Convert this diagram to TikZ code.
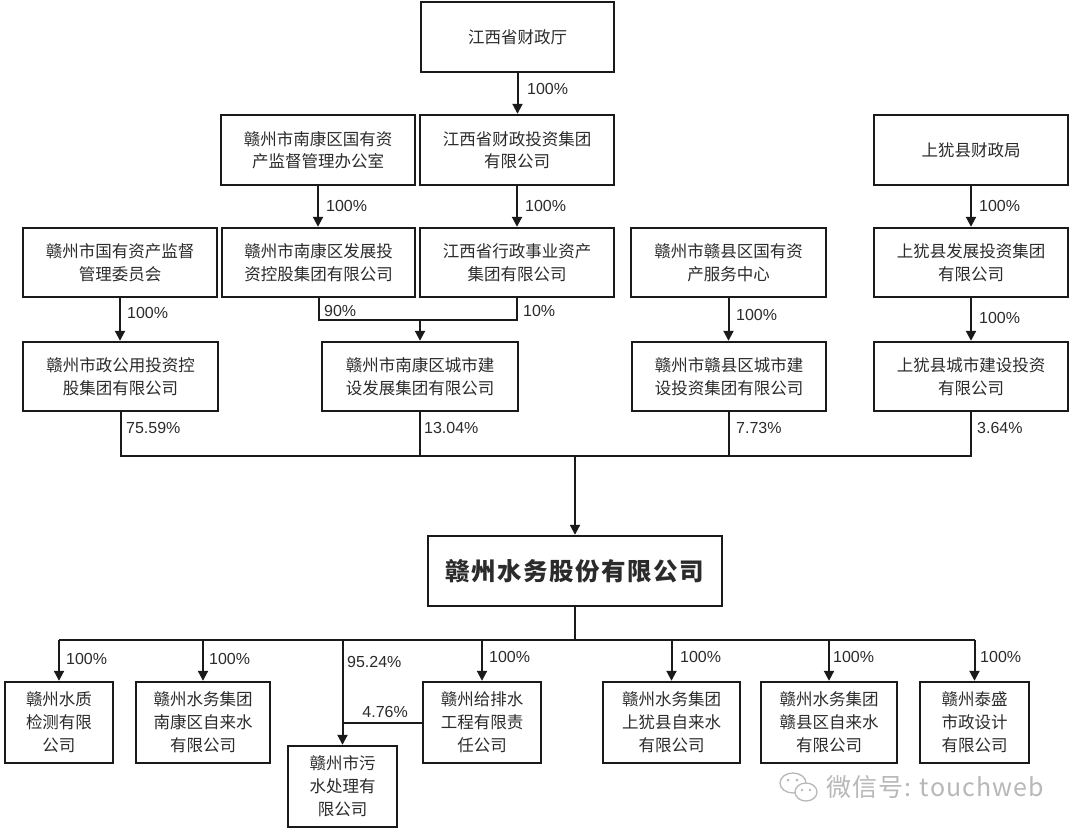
\documentclass[tikz,border=0pt]{standalone}
\usepackage{fontspec}
\setmainfont{Noto Sans CJK SC}
\newfontfamily\pctfont{Liberation Sans}
\newfontfamily\titlefont[LetterSpace=6]{Noto Sans CJK SC}
\newfontfamily\wmfont[LetterSpace=4]{Noto Sans CJK SC}
\usetikzlibrary{arrows.meta,calc}
\definecolor{ink}{HTML}{1A1A1A}
\definecolor{txt}{HTML}{2B2B2B}
\definecolor{wm}{HTML}{B8B8B8}
\begin{document}
\begin{tikzpicture}[x=1pt,y=-1pt,
  box/.style={draw=ink, line width=2.4pt, inner sep=0pt, align=center, text=txt,
    font=\fontsize{16.5}{22.5}\selectfont},
  conn/.style={draw=ink, line width=2pt},
  arr/.style={conn, -{Triangle[width=10pt,length=10pt]}},
  pct/.style={anchor=west, inner sep=0pt, text=txt, font=\pctfont\fontsize{16}{18}\selectfont}]
\useasboundingbox[fill=white] (0,0) rectangle (1080,833);

% ---- boxes
\node[box, minimum width=193, minimum height=70] (top)   at (517.5,37) {江西省财政厅};
\node[box, minimum width=194, minimum height=70] (nkgz)  at (318,150) {赣州市南康区国有资\\产监督管理办公室};
\node[box, minimum width=194, minimum height=70] (jxct)  at (517,150) {江西省财政投资集团\\有限公司};
\node[box, minimum width=194, minimum height=70] (syczj) at (971,150) {上犹县财政局};

\node[box, minimum width=194, minimum height=69] (gzgz)  at (120,262.5) {赣州市国有资产监督\\管理委员会};
\node[box, minimum width=193, minimum height=69] (nkfz)  at (318.5,262.5) {赣州市南康区发展投\\资控股集团有限公司};
\node[box, minimum width=194, minimum height=69] (jxxz)  at (517,262.5) {江西省行政事业资产\\集团有限公司};
\node[box, minimum width=195, minimum height=69] (gxgz)  at (728.5,262.5) {赣州市赣县区国有资\\产服务中心};
\node[box, minimum width=194, minimum height=69] (syfz)  at (971,262.5) {上犹县发展投资集团\\有限公司};

\node[box, minimum width=195, minimum height=69] (gzsz)  at (120.5,376.5) {赣州市政公用投资控\\股集团有限公司};
\node[box, minimum width=196, minimum height=69] (nkcs)  at (420,376.5) {赣州市南康区城市建\\设发展集团有限公司};
\node[box, minimum width=194, minimum height=69] (gxcs)  at (729,376.5) {赣州市赣县区城市建\\设投资集团有限公司};
\node[box, minimum width=194, minimum height=69] (sycs)  at (971,376.5) {上犹县城市建设投资\\有限公司};

\node[box, minimum width=294, minimum height=70, font=\titlefont\bfseries\fontsize{24.5}{28}\selectfont] (main) at (575,571) {赣州水务股份有限公司};

\node[box, minimum width=108, minimum height=81, font=\fontsize{16.5}{23}\selectfont] (szjc) at (59,722.5) {赣州水质\\检测有限\\公司};
\node[box, minimum width=134, minimum height=81, font=\fontsize{16.5}{23}\selectfont] (nkzl) at (203,722.5) {赣州水务集团\\南康区自来水\\有限公司};
\node[box, minimum width=109, minimum height=81, font=\fontsize{16.5}{23}\selectfont] (wscl) at (342.5,786.5) {赣州市污\\水处理有\\限公司};
\node[box, minimum width=118, minimum height=81, font=\fontsize{16.5}{23}\selectfont] (gps)  at (482,722.5) {赣州给排水\\工程有限责\\任公司};
\node[box, minimum width=137, minimum height=81, font=\fontsize{16.5}{23}\selectfont] (syzl) at (671.5,722.5) {赣州水务集团\\上犹县自来水\\有限公司};
\node[box, minimum width=136, minimum height=81, font=\fontsize{16.5}{23}\selectfont] (gxzl) at (829,722.5) {赣州水务集团\\赣县区自来水\\有限公司};
\node[box, minimum width=109, minimum height=81, font=\fontsize{16.5}{23}\selectfont] (ts)   at (974.5,722.5) {赣州泰盛\\市政设计\\有限公司};

% ---- upper connectors
\draw[arr] (top.south) -- (top.south |- jxct.north);
\draw[arr] (nkgz.south) -- (nkgz.south |- nkfz.north);
\draw[arr] (jxct.south) -- (jxct.south |- jxxz.north);
\draw[arr] (syczj.south) -- (syczj.south |- syfz.north);
\draw[arr] (gzgz.south) -- (gzgz.south |- gzsz.north);
\coordinate (m1) at (420,320);
\draw[conn] (nkfz.south) |- (m1) -| (jxxz.south);
\draw[arr] (m1) -- (nkcs.north);
\draw[arr] (gxgz.south) -- (gxgz.south |- gxcs.north);
\draw[arr] (syfz.south) -- (syfz.south |- sycs.north);

% ---- bus to main company
\coordinate (b1) at (575,456);
\draw[conn] (gzsz.south) |- (sycs.south |- b1) -- (sycs.south);
\draw[conn] (nkcs.south) -- (nkcs.south |- b1);
\draw[conn] (gxcs.south) -- (gxcs.south |- b1);
\draw[arr] (b1) -- (main.north);

% ---- bus to subsidiaries
\coordinate (b2) at (575,640);
\draw[conn] (main.south) -- (b2);
\draw[conn] (szjc.north |- b2) -- (ts.north |- b2);
\draw[arr] (szjc.north |- b2) -- (szjc.north);
\draw[arr] (nkzl.north |- b2) -- (nkzl.north);
\draw[arr] (wscl.north |- b2) -- (wscl.north);
\draw[arr] (gps.north |- b2) -- (gps.north);
\draw[arr] (syzl.north |- b2) -- (syzl.north);
\draw[arr] (gxzl.north |- b2) -- (gxzl.north);
\draw[arr] (ts.north |- b2) -- (ts.north);
\draw[conn] (gps.west) -- (gps.west -| wscl.north);

% ---- percentage labels
\node[pct] (l1)  at (527,89) {100\%};
\node[pct] (l2)  at (326,206) {100\%};
\node[pct] (l3)  at (525,206) {100\%};
\node[pct] (l4)  at (979,206) {100\%};
\node[pct] (l5)  at (127,313) {100\%};
\node[pct] (l6)  at (324,311) {90\%};
\node[pct] (l7)  at (523,311) {10\%};
\node[pct] (l8)  at (736,315) {100\%};
\node[pct] (l9)  at (979,318) {100\%};
\node[pct] (l10) at (126,428) {75.59\%};
\node[pct] (l11) at (424,428) {13.04\%};
\node[pct] (l12) at (736,428) {7.73\%};
\node[pct] (l13) at (977,428) {3.64\%};
\node[pct] (l14) at (66,659) {100\%};
\node[pct] (l15) at (209,659) {100\%};
\node[pct] (l16) at (347,662) {95.24\%};
\node[pct] (l17) at (489,657) {100\%};
\node[pct] (l18) at (680,657) {100\%};
\node[pct] (l19) at (833,657) {100\%};
\node[pct] (l20) at (980,657) {100\%};
\node[pct, anchor=east] (l21) at (408,712) {4.76\%};

% ---- watermark
\begin{scope}[draw=wm, line width=1.3pt]
  \draw (793,783) ellipse [x radius=13, y radius=10];
  \draw[fill=white] (806,792) ellipse [x radius=11, y radius=9];
  \fill[wm] (788,780) circle (1.5) (797,780) circle (1.5) (802,790) circle (1.3) (810,790) circle (1.3);
\end{scope}
\node[anchor=west, inner sep=0pt, text=wm, font=\wmfont\fontsize{25}{28}\selectfont] (wmark) at (826,787) {微信号: touchweb};
\end{tikzpicture}
\end{document}
